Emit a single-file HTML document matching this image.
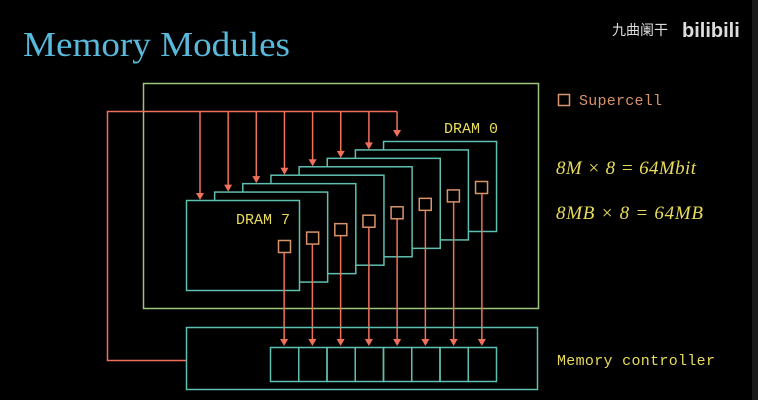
<!DOCTYPE html>
<html><head><meta charset="utf-8"><style>
html,body{margin:0;padding:0;background:#000;width:758px;height:400px;overflow:hidden}
svg{display:block}
.mono{font-family:"Liberation Mono",monospace}
</style></head><body>
<svg id="d" width="758" height="400" viewBox="0 0 758 400" xmlns="http://www.w3.org/2000/svg">
<rect x="752" y="0" width="6" height="400" fill="#1a1a1a"/>
<text x="23" y="56" font-family="Liberation Serif,serif" font-size="35" fill="#5ab8da" textLength="267" lengthAdjust="spacingAndGlyphs">Memory Modules</text>
<text x="612" y="35" font-family="Liberation Sans,Noto Sans CJK SC,sans-serif" font-size="14" fill="#ddd">九曲阑干</text>
<text x="682" y="37" font-family="Liberation Sans,sans-serif" font-size="20" font-weight="bold" fill="#ddd">bilibili</text>
<rect x="143.5" y="83.5" width="395" height="225" fill="none" stroke="#9cc47a" stroke-width="1.5"/>
<g id="drams"></g>
<path d="M397 111.5 H107.5 V360.5 H186" fill="none" stroke="#f0705a" stroke-width="1.5"/>
<rect x="186.5" y="327.5" width="351" height="62" fill="none" stroke="#5fbfb0" stroke-width="1.5"/>
<g id="cells"></g>
<rect x="558.5" y="94.5" width="11" height="11" fill="none" stroke="#d8946a" stroke-width="1.5"/>
<text x="579" y="105" class="mono" font-size="15" fill="#d8946a" textLength="83">Supercell</text>
<text x="556" y="174" font-family="Liberation Serif,serif" font-style="italic" font-size="19" fill="#e8dc5a" textLength="140">8M × 8 = 64Mbit</text>
<text x="556" y="219" font-family="Liberation Serif,serif" font-style="italic" font-size="19" fill="#e8dc5a" textLength="147">8MB × 8 = 64MB</text>
<text x="557" y="365" class="mono" font-size="15" fill="#e8dc5a" textLength="158">Memory controller</text>
</svg>
<script>
const dramIndices=[7,6,5,4,3,2,1,0];
const cellCount=8;
const NS="http://www.w3.org/2000/svg";
const g=document.getElementById('drams');
const cg=document.getElementById('cells');
function mk(p,t,a){const e=document.createElementNS(NS,t);for(const k in a)e.setAttribute(k,a[k]);p.appendChild(e);return e;}
const red="#f0705a",teal="#5fbfb0";
for(let j=dramIndices.length-1;j>=0;j--){
  const idx=dramIndices[j];
  const x=186+j*28.15, y=200-j*8.43;
  const r=mk(g,'rect',{x:x+0.5,y:y+0.5,width:113,height:90,fill:'#000',stroke:teal,'stroke-width':1.5});
  
  
  const ax=x+14;
  const tipY = idx===0 ? y-4 : y;
  const l=mk(g,'line',{x1:ax,y1:111.5,x2:ax,y2:tipY-6,stroke:red,'stroke-width':1.5});
  
  
  const a=mk(g,'path',{d:`M${ax-4} ${tipY-7} L${ax+4} ${tipY-7} L${ax} ${tipY} Z`,fill:red});
  
  
  const sx=x+92,sy=y+40;
  const s=mk(g,'rect',{x:sx+0.5,y:sy+0.5,width:12,height:12,fill:'none',stroke:'#d8946a','stroke-width':1.5});
  
  
  const cx=270+(j+0.5)*226/cellCount;
  const dl=mk(g,'line',{x1:cx,y1:sy+13,x2:cx,y2:340,stroke:red,'stroke-width':1.5});
  
  
  const da=mk(g,'path',{d:`M${cx-4} ${339} L${cx+4} 339 L${cx} 346 Z`,fill:red});
  
  
}
// labels drawn last so they sit on top
const labels=[[7,236,224],[0,444,133]];
for(const [idx,lx,ly] of labels){
  const t=mk(g,'text',{x:lx,y:ly,'font-family':'Liberation Mono,monospace','font-size':15,fill:'#e8dc5a',textLength:54});
  t.textContent='DRAM '+idx;
  
  
}
for(let i=0;i<cellCount;i++){
  const w=226/cellCount;
  const c=mk(cg,'rect',{x:270.5+i*w,y:347.5,width:w,height:34,fill:'none',stroke:teal,'stroke-width':1.5});
  
  
}
</script>
</body></html>
